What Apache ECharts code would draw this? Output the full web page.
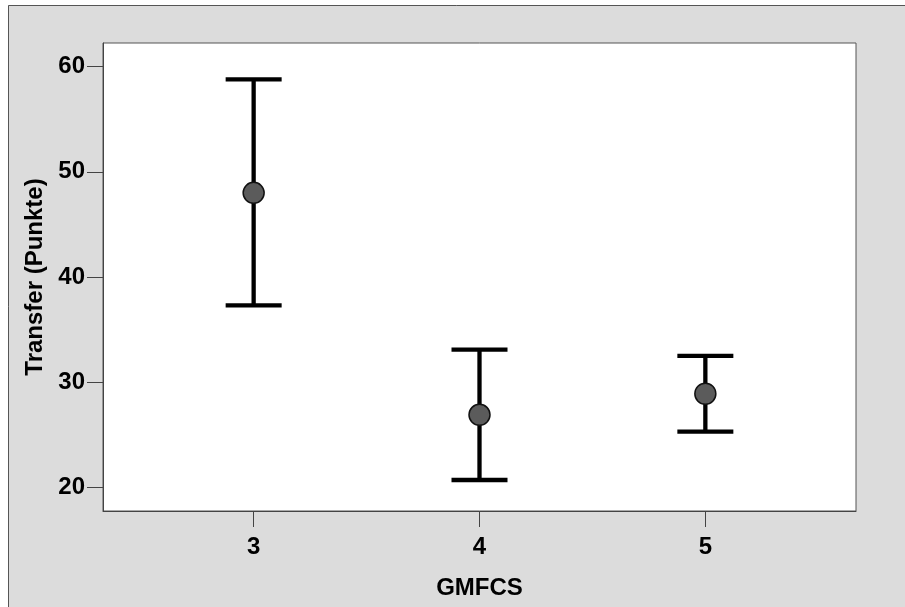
<!DOCTYPE html>
<html><head><meta charset="utf-8">
<script src="https://cdn.jsdelivr.net/npm/echarts@6/dist/echarts.min.js"></script>
<style>html,body{margin:0;padding:0;background:#fff}#c{width:905px;height:607px}</style>
</head><body><div id="c"></div>
<script>
// Data
const categories = [3, 4, 5];
const means = [48.0, 26.9, 28.9];
const lower = [37.3, 20.7, 25.3];
const upper = [58.8, 33.1, 32.5];
const yTicks = [20, 30, 40, 50, 60];

const font = '"Liberation Sans", Arial, Helvetica, sans-serif';
const txt = {color:'#000', fontSize:24, fontWeight:'bold', fontFamily:font};
const chart = echarts.init(document.getElementById('c'), null, {renderer:'canvas'});
const option = {
  backgroundColor: '#dcdcdc',
  animation: false,
  graphic: [
    {type:'rect', shape:{x:0,y:0,width:905,height:5}, style:{fill:'#fff'}, silent:true},
    {type:'rect', shape:{x:0,y:0,width:8,height:607}, style:{fill:'#fff'}, silent:true},
    {type:'line', shape:{x1:8.5,y1:5.5,x2:905,y2:5.5}, style:{stroke:'#555',lineWidth:1}, silent:true},
    {type:'line', shape:{x1:8.5,y1:5.5,x2:8.5,y2:607}, style:{stroke:'#555',lineWidth:1}, silent:true}
  ],
  grid: {left:103, right:49, top:43, bottom:96, show:true, backgroundColor:'#fff', borderColor:'#555', borderWidth:1},
  xAxis: {
    type:'value', min:2.333, max:5.667,
    name:'GMFCS', nameLocation:'middle', nameGap:65, nameTextStyle:txt,
    axisLine:{show:true, lineStyle:{color:'#444', width:1}},
    axisTick:{show:true, length:16, customValues:categories, lineStyle:{color:'#444', width:1}},
    axisLabel:Object.assign({customValues:categories, margin:24}, txt),
    splitLine:{show:false}
  },
  yAxis: {
    type:'value', min:17.75, max:62.25,
    name:'Transfer (Punkte)', nameLocation:'middle', nameRotate:90, nameGap:56, nameTextStyle:txt,
    axisLine:{show:true, lineStyle:{color:'#444', width:1}},
    axisTick:{show:true, length:16, customValues:yTicks, lineStyle:{color:'#444', width:1}},
    axisLabel:Object.assign({customValues:yTicks, margin:18}, txt),
    splitLine:{show:false}
  },
  series: [
    {
      type:'custom',
      data: categories.map((c,i)=>[c, lower[i], upper[i]]),
      encode:{x:0, y:[1,2]},
      z:3,
      renderItem: function(params, api){
        const x = api.value(0), lo = api.value(1), hi = api.value(2);
        const pLo = api.coord([x, lo]), pHi = api.coord([x, hi]);
        const hw = 28;
        const style = {stroke:'#000', lineWidth:4.3};
        return {type:'group', children:[
          {type:'line', shape:{x1:pLo[0], y1:pLo[1], x2:pHi[0], y2:pHi[1]}, style:style},
          {type:'line', shape:{x1:pHi[0]-hw, y1:pHi[1], x2:pHi[0]+hw, y2:pHi[1]}, style:style},
          {type:'line', shape:{x1:pLo[0]-hw, y1:pLo[1], x2:pLo[0]+hw, y2:pLo[1]}, style:style}
        ]};
      }
    },
    {
      type:'scatter',
      data: categories.map((c,i)=>[c, means[i]]),
      symbol:'circle', symbolSize:21, z:5,
      itemStyle:{color:'#5b5b5b', borderColor:'#111', borderWidth:1.5, opacity:1}
    }
  ]
};
chart.setOption(option);
</script>
</body></html>
